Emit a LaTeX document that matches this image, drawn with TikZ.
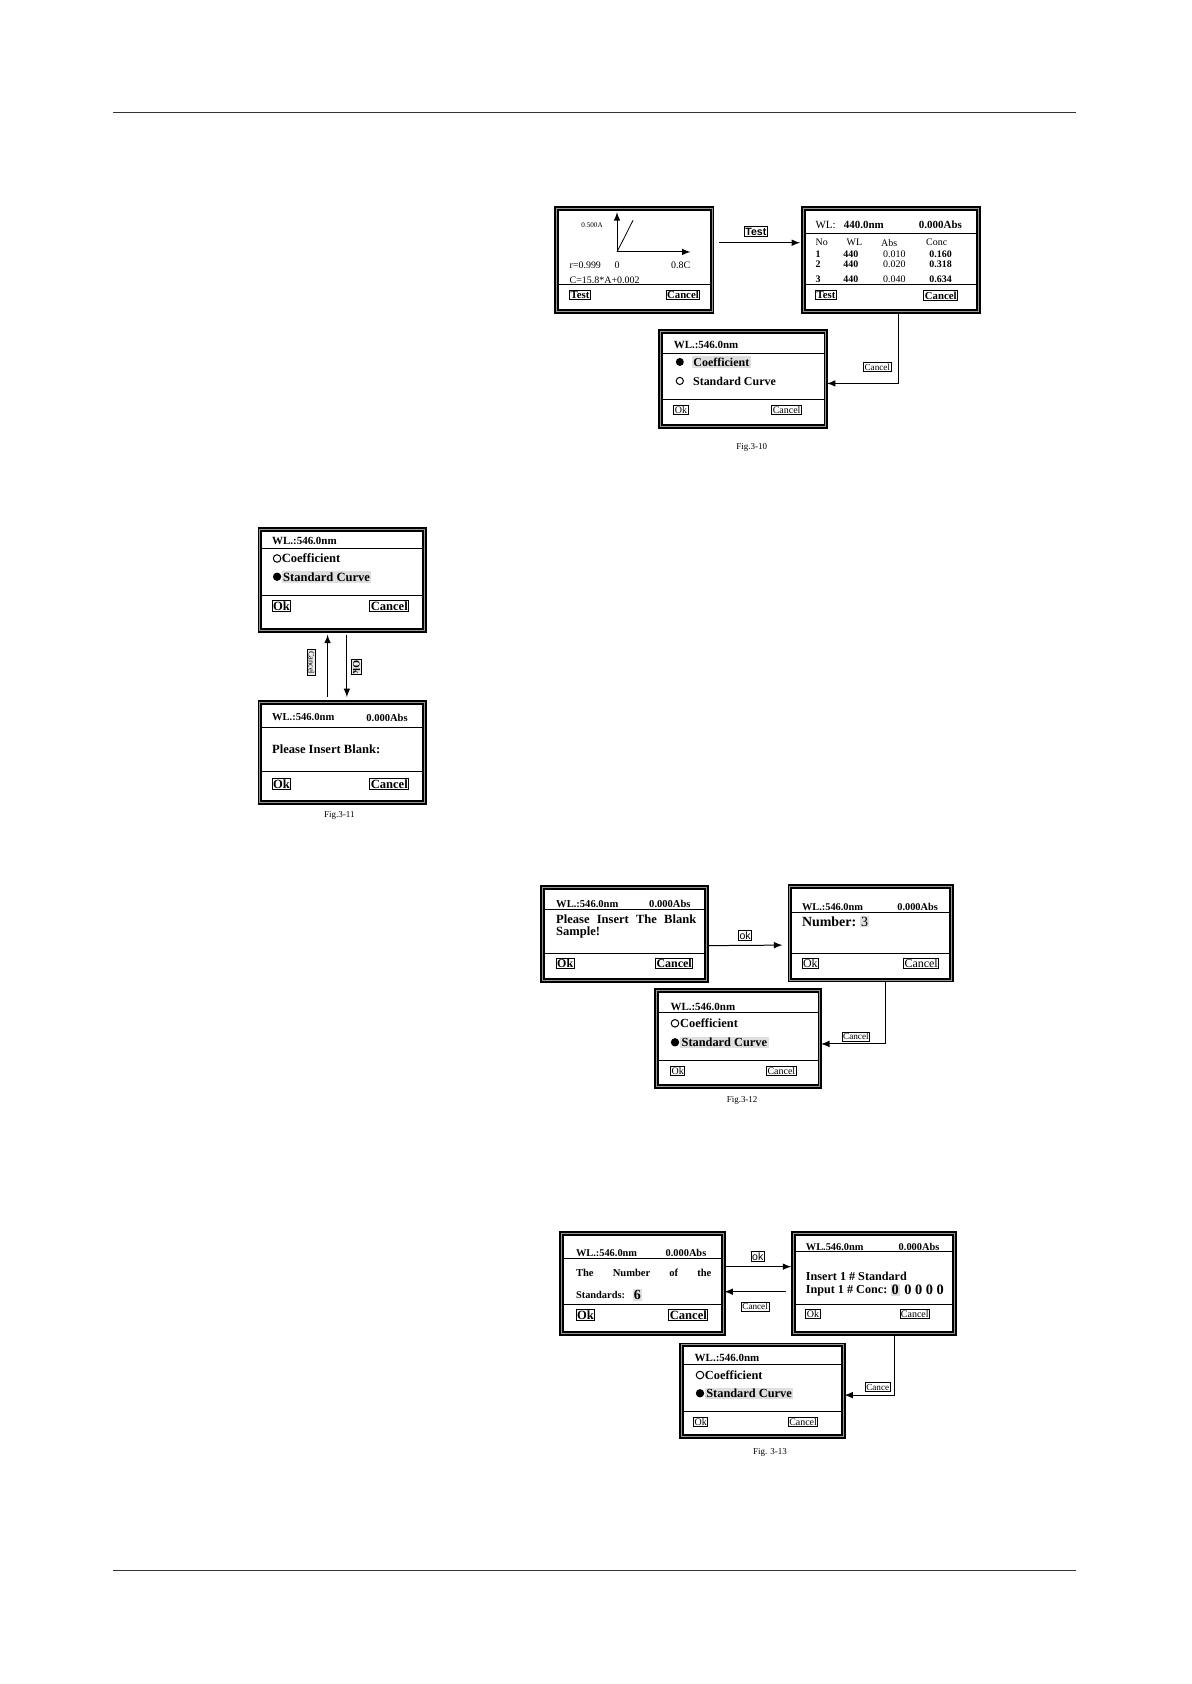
\documentclass[tikz,border=0pt]{standalone}
\usepackage{fontspec}
\setmainfont{Liberation Serif}
\newfontfamily\arialfont{Liberation Sans}
\usetikzlibrary{fit,calc,positioning}

\newcommand\fsz[1]{\fontsize{#1}{#1}\selectfont}
\newcommand\screen[5]{\node[screen, fit={(#2,#3) (#4,#5)}] (#1) {};}
\newcommand\btns[6]{%
  \node[btn, font=#1] (#2l) at (#4,#6) {#3};
  \node[btn, anchor=east, font=#1] (#2r) at (#5,#6) {Cancel};}

\tikzset{
  screen/.style={draw, line width=0.95pt, double=gray!80, double distance=0.5pt, inner sep=0pt},
  sep/.style={line width=0.45pt},
  txt/.style={inner sep=0pt, anchor=west, font=\fsz{5.3}\bfseries},
  rtxt/.style={txt, anchor=east},
  hl/.style={fill=gray!25, inner sep=0.7pt},
  btn/.style={draw, line width=0.45pt, inner sep=0.5pt, anchor=west},
  flow/.style={->, line width=0.5pt},
  lbl/.style={draw, line width=0.4pt, inner sep=0.6pt, fill=white, font=\fsz{4.6}},
  sanslbl/.style={lbl, font=\arialfont\fsz{5.3}},
  caption/.style={inner sep=0pt, font=\fsz{4.5}},
  pageline/.style={line width=0.5pt, black!80}
}

\begin{document}
\begin{tikzpicture}[x=0.18936mm, y=-0.18936mm, >=latex]
\useasboundingbox (0,0) rectangle (1109,1568);
\draw[pageline] (105,105) -- (1002,105);
\draw[pageline] (105,1462) -- (1002,1462);

% Fig 3-10
\screen{curve}{518}{194}{663}{290}
\draw[->, line width=0.5pt] (574.5,234.6) -- (574.5,197.5);
\draw[->, line width=0.5pt] (574.5,234.6) -- (643,234.6);
\draw[line width=0.4pt] (574.5,234.6) -- (589.5,205);
\node[txt, font=\fsz{3.6}] (c1a) at (541,209.5) {0.500A};
\node[txt, font=\fsz{5}] (c1r) at (530,246.7) {r=0.999};
\node[inner sep=0pt, font=\fsz{5}] (c1o) at (574.5,246.7) {0};
\node[rtxt, font=\fsz{5}] (c1m) at (643,246.7) {0.8C};
\node[txt, font=\fsz{5}] (c1c) at (530,260.5) {C=15.8*A+0.002};
\draw[sep] (520,264.4) -- (661,264.4);
\btns{\fsz{5.4}\bfseries}{curve}{Test}{530}{652}{274.7}

\screen{table}{748}{194}{911}{290}
\node[txt, font=\fsz{5.5}\bfseries] (t1wl) at (759,209.5) {{\mdseries WL:}\ \ \ 440.0nm};
\node[rtxt, font=\fsz{5.5}\bfseries] (t1abs) at (896,209.5) {0.000Abs};
\draw[sep] (750,217) -- (909,217);
\foreach \h/\x in {No/759, WL/788, Abs/820, Conc/862}
  \node[txt, font=\fsz{5}] (h\h) at (\x,226) {\h};
\foreach \r/\yy/\a/\c in {1/236.5/0.010/0.160, 2/246/0.020/0.318, 3/260/0.040/0.634} {
  \node[txt, font=\fsz{5}\bfseries] (n\r) at (759,\yy) {\r};
  \node[txt, font=\fsz{5}\bfseries] (w\r) at (785,\yy) {440};
  \node[txt, font=\fsz{5}] (a\r) at (822,\yy) {\a};
  \node[txt, font=\fsz{5}\bfseries] (k\r) at (865,\yy) {\c};
}
\draw[sep] (750,264.5) -- (909,264.5);
\btns{\fsz{5.4}\bfseries}{table}{Test}{759}{892}{275}

\draw[flow] ($(curve.east)+(6,-16)$) -- ($(table.west)+(-2,-16)$)
  node[sanslbl, midway, above=1mm, xshift=-0.7mm] (testlbl) {\textbf{Test}};

\screen{coeffA}{615}{309}{769}{397}
\node[txt, font=\fsz{5.5}\bfseries] (a3wl) at (627,321) {WL.:546.0nm};
\draw[sep] (617,328.7) -- (767,328.7);
\fill (633,337) circle (2pt);
\node[txt, hl, font=\fsz{6}\bfseries] (a3co) at (644,337) {Coefficient};
\draw[line width=0.5pt] (633,354.7) circle (1.8pt);
\node[txt, font=\fsz{6}\bfseries] (a3sc) at (645,354.7) {Standard Curve};
\draw[sep] (617,371.5) -- (767,371.5);
\btns{\fsz{5}}{coeffA}{Ok}{627}{746.7}{381.7}

\draw[flow] ($(table.south)+(7.5,0)$) |- ($(coeffA.east)+(0,4)$)
  node[lbl, pos=0.65, above=2mm] (c10lbl) {Cancel};
\node[caption] (fig10) at (700,417) {Fig.3-10};

% Fig 3-11
\screen{stdA}{242}{493}{395}{587}
\node[txt, font=\fsz{5.5}\bfseries] (b4wl) at (253,504) {WL.:546.0nm};
\draw[sep] (244,511) -- (393,511);
\draw[line width=0.5pt] (258,520) circle (1.9pt);
\node[txt, font=\fsz{6.3}\bfseries] (b4co) at (262,520) {Coefficient};
\fill (258,537) circle (2.1pt);
\node[txt, hl, font=\fsz{6.3}\bfseries] (b4sc) at (262,537) {Standard Curve};
\draw[sep] (244,554) -- (393,554);
\btns{\fsz{6.3}\bfseries}{stdA}{Ok}{253}{381}{564}

\screen{blankA}{242}{654}{395}{747}
\node[txt, font=\fsz{5.3}\bfseries] (b5wl) at (253,668) {WL.:546.0nm};
\node[rtxt, font=\fsz{5.3}\bfseries] (b5abs) at (380,668) {0.000Abs};
\draw[sep] (244,677) -- (393,677);
\node[txt, font=\fsz{6.3}\bfseries] (b5pl) at (253,698) {Please Insert Blank:};
\draw[sep] (244,718) -- (393,718);
\btns{\fsz{6.3}\bfseries}{blankA}{Ok}{253}{381}{730}

\draw[flow] ($(blankA.north)+(-13.5,-4)$) -- ($(stdA.south)+(-13.5,3)$);
\draw[flow] ($(stdA.south)+(4.5,3)$) -- ($(blankA.north)+(4.5,-4)$);
\node[lbl, rotate=-90, font=\fsz{4.2}, fill=gray!15] (c11up) at (290,617) {Cancel};
\node[lbl, rotate=-90, font=\fsz{5}\bfseries, fill=gray!15] (c11dn) at (332,621) {Ok};
\node[caption] (fig11) at (316,759) {Fig.3-11};

% Fig 3-12
\screen{blankB}{505}{826}{658}{913}
\node[txt, font=\fsz{5.3}\bfseries] (b6wl) at (517.5,841.7) {WL.:546.0nm};
\node[rtxt, font=\fsz{5.3}\bfseries] (b6abs) at (643.4,841.7) {0.000Abs};
\draw[sep] (507,846.7) -- (656,846.7);
\node[txt, font=\fsz{6.3}\bfseries, text width=24.7mm] (b6pl) at (517.5,856) {Please\hfill Insert\hfill The\hfill Blank};
\node[txt, font=\fsz{6.3}\bfseries] (b6sa) at (517.5,868) {Sample!};
\draw[sep] (507,888) -- (656,888);
\btns{\fsz{6}\bfseries}{blankB}{Ok}{517.5}{645.5}{897}

\screen{numberB}{735.5}{825.5}{886}{912.5}
\node[txt, font=\fsz{5.2}\bfseries] (b7wl) at (746.4,844.2) {WL.:546.0nm};
\node[rtxt, font=\fsz{5.2}\bfseries] (b7abs) at (873.7,844.2) {0.000Abs};
\draw[sep] (737.5,849.5) -- (884,849.5);
\node[txt, font=\fsz{7}\bfseries] (b7nu) at (746.4,858.2) {Number:};
\node[txt, hl, font=\fsz{7}, inner sep=0.5pt, right=1.5pt of b7nu] (b7val) {3};
\draw[sep] (737.5,888) -- (884,888);
\btns{\fsz{6}}{numberB}{Ok}{746.4}{874.5}{897}

\draw[flow] ($(blankB.east)+(0,11)$) -- ($(numberB.west)+(-6,11)$)
  node[sanslbl, midway, above=0.8mm] (oklbl12) {ok};

\screen{stdB}{611.5}{922}{763.5}{1012}
\node[txt, font=\fsz{5.5}\bfseries] (b8wl) at (624,937.3) {WL.:546.0nm};
\draw[sep] (613.5,942.6) -- (761.5,942.6);
\draw[line width=0.5pt] (628.5,952.8) circle (1.9pt);
\node[txt, font=\fsz{6.2}\bfseries] (b8co) at (633,952.8) {Coefficient};
\fill (628.5,970.5) circle (2.1pt);
\node[txt, hl, font=\fsz{6.2}\bfseries] (b8sc) at (633,970.5) {Standard Curve};
\draw[sep] (613.5,987) -- (761.5,987);
\btns{\fsz{5}}{stdB}{Ok}{624}{741.8}{997}

\draw[flow] ($(numberB.south)+(14,0)$) |- ($(stdB.east)+(0,5)$)
  node[lbl, pos=0.73, above=0.4mm] (c12lbl) {Cancel};
\node[caption] (fig12) at (691,1025) {Fig.3-12};

% Fig 3-13
\screen{numStd}{523}{1148.4}{673.5}{1241.4}
\node[txt, font=\fsz{5.2}\bfseries] (b9wl) at (536,1167) {WL.:546.0nm};
\node[rtxt, font=\fsz{5.2}\bfseries] (b9abs) at (658,1167) {0.000Abs};
\draw[sep] (525,1171.6) -- (671.5,1171.6);
\node[txt, font=\fsz{5.3}\bfseries, text width=23.86mm] (b9th) at (536,1185.6) {The\hfill Number\hfill of\hfill the};
\node[txt, font=\fsz{5.2}\bfseries] (b9st) at (536,1205.8) {Standards:};
\node[txt, hl, font=\fsz{7}\bfseries, inner sep=0.5pt] (b9six) at (589,1205.8) {6};
\draw[sep] (525,1214.5) -- (671.5,1214.5);
\btns{\fsz{6.3}\bfseries}{numStd}{Ok}{536}{659.5}{1224.4}

\screen{concStd}{738.7}{1148.4}{888.5}{1241.4}
\node[txt, font=\fsz{5.2}\bfseries] (b10wl) at (750,1160.8) {WL.546.0nm};
\node[rtxt, font=\fsz{5.2}\bfseries] (b10abs) at (875,1160.8) {0.000Abs};
\draw[sep] (740.7,1165.4) -- (886.5,1165.4);
\node[txt, font=\fsz{6.1}\bfseries] (b10is) at (750,1188.7) {Insert 1 \# Standard};
\node[txt, font=\fsz{6.1}\bfseries] (b10ic) at (750,1202) {Input 1 \# Conc:};
\node[txt, hl, font=\fsz{7.2}\bfseries, inner sep=0.5pt] (b10z) at (829,1201) {0};
\node[txt, font=\fsz{7.2}\bfseries, right=1.8pt of b10z] (b10zs) {0 0 0 0};
\draw[sep] (740.7,1214.5) -- (886.5,1214.5);
\btns{\fsz{5}}{concStd}{Ok}{750}{866}{1223.8}

\draw[flow] ($(numStd.east)+(0,-15.5)$) -- ($(concStd.west)+(-1,-15.5)$)
  node[sanslbl, midway, above=0.8mm] (oklbl13) {ok};
\draw[flow] ($(concStd.west)+(-6,7.8)$) -- ($(numStd.east)+(0,7.8)$)
  node[lbl, midway, below=1.8mm] (c13back) {Cancel};

\screen{stdC}{634.7}{1252.3}{785.2}{1337.7}
\node[txt, font=\fsz{5.5}\bfseries] (b11wl) at (646.5,1264.7) {WL.:546.0nm};
\draw[sep] (636.7,1270.3) -- (783.2,1270.3);
\draw[line width=0.5pt] (651.8,1280.3) circle (1.9pt);
\node[txt, font=\fsz{6.2}\bfseries] (b11co) at (656,1280.3) {Coefficient};
\fill (651.8,1297.3) circle (2.1pt);
\node[txt, hl, font=\fsz{6.2}\bfseries] (b11sc) at (656,1297.3) {Standard Curve};
\draw[sep] (636.7,1313.8) -- (783.2,1313.8);
\btns{\fsz{5}}{stdC}{Ok}{645.5}{762}{1324.3}

\draw[flow] ($(concStd.south)+(19.7,0)$) |- ($(stdC.east)+(0,4)$)
  node[lbl, pos=0.67, above=0.6mm] (c13lbl) {Cance};
\node[caption] (fig13) at (717,1352) {Fig. 3-13};
\end{tikzpicture}
\end{document}
